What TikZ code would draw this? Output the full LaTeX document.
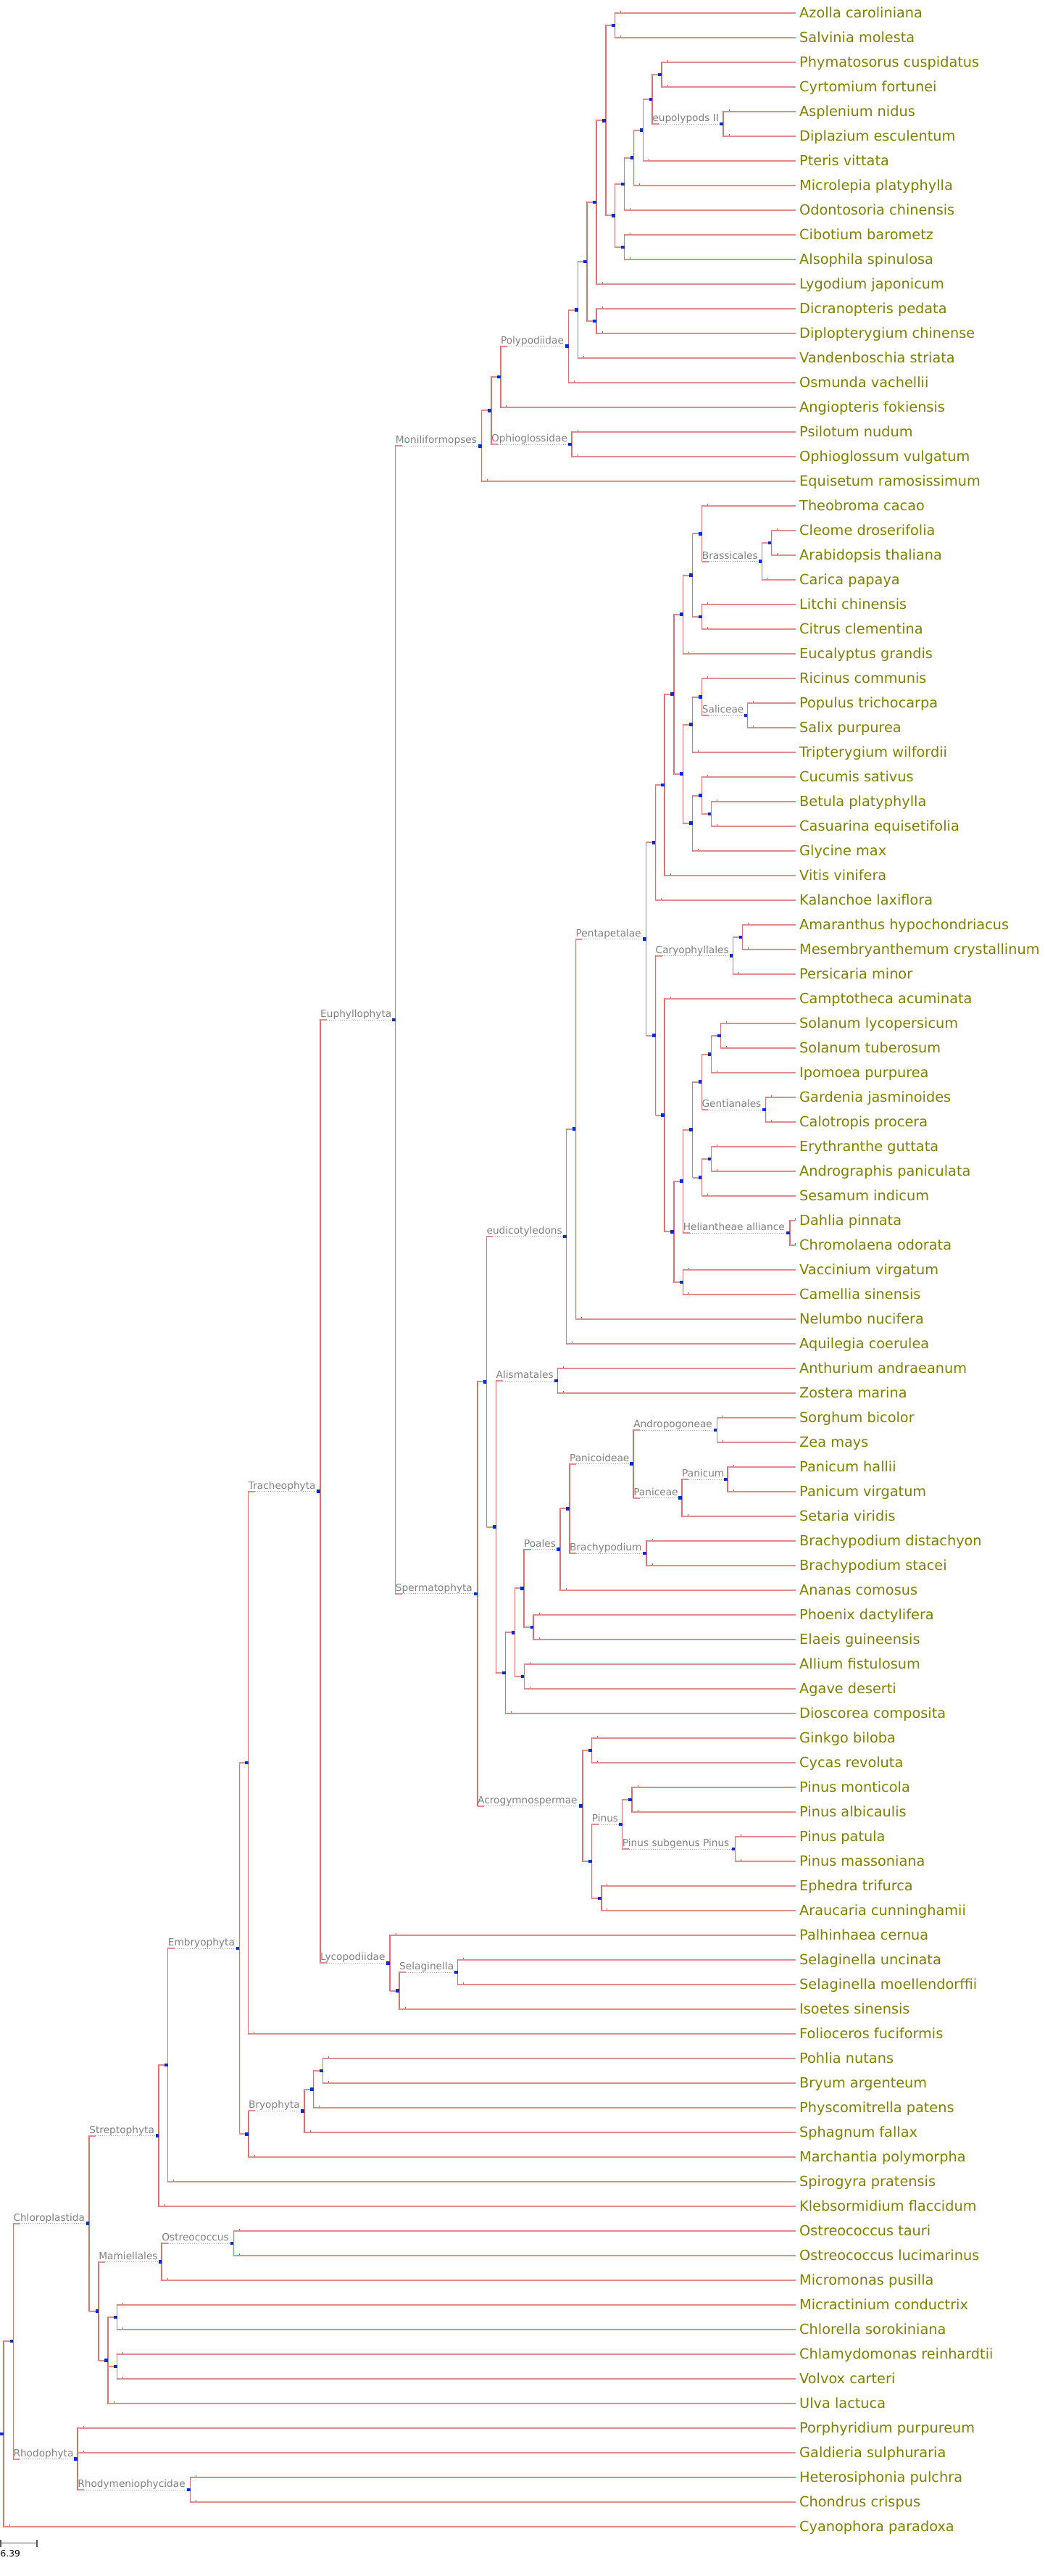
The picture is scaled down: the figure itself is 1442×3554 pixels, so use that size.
\documentclass[tikz,border=0pt]{standalone}
\usepackage{fontspec}
\setmainfont{DejaVu Sans}
\usepackage{tikz}
\usetikzlibrary{calc}
\pgfdeclarelayer{front}
\pgfsetlayers{main,front}
\definecolor{brpink}{RGB}{222,140,140}
\definecolor{brred}{RGB}{215,115,115}
\definecolor{leafol}{RGB}{128,128,0}
\definecolor{cladegr}{RGB}{128,128,128}
\definecolor{dotblue}{RGB}{0,45,205}

\begin{document}
\begin{tikzpicture}[x=1pt, y=-1pt,
    hz/.style={brpink, line width=2pt},
    vt/.style={brred, line width=1.5pt, line cap=rect},
    extra/.style={cladegr!70, line width=1pt, dash pattern=on 1pt off 2pt},
    ndot/.style={dotblue},
    tick/.style={brred!80!black, line width=0.8pt},
    leaf/.style={anchor=west, inner xsep=5pt, inner ysep=0pt, text height=17.9pt, text depth=4.6pt,
      text=leafol, font=\fontsize{19.3}{22}\selectfont},
    clade/.style={anchor=base west, inner sep=0pt, text=cladegr, font=\fontsize{13.7}{16}\selectfont},
    sbar/.style={black!65, line width=1.3pt}]
  \useasboundingbox (0,0) rectangle (1442,3554);

  % leaves, top to bottom
  \foreach \sp [count=\i] in {Azolla caroliniana, Salvinia molesta, Phymatosorus cuspidatus, Cyrtomium fortunei,
      Asplenium nidus, Diplazium esculentum, Pteris vittata, Microlepia platyphylla, Odontosoria chinensis,
      Cibotium barometz, Alsophila spinulosa, Lygodium japonicum, Dicranopteris pedata, Diplopterygium chinense,
      Vandenboschia striata, Osmunda vachellii, Angiopteris fokiensis, Psilotum nudum, Ophioglossum vulgatum,
      Equisetum ramosissimum, Theobroma cacao, Cleome droserifolia, Arabidopsis thaliana, Carica papaya,
      Litchi chinensis, Citrus clementina, Eucalyptus grandis, Ricinus communis, Populus trichocarpa,
      Salix purpurea, Tripterygium wilfordii, Cucumis sativus, Betula platyphylla, Casuarina equisetifolia,
      Glycine max, Vitis vinifera, Kalanchoe laxiflora, Amaranthus hypochondriacus, Mesembryanthemum crystallinum,
      Persicaria minor, Camptotheca acuminata, Solanum lycopersicum, Solanum tuberosum, Ipomoea purpurea,
      Gardenia jasminoides, Calotropis procera, Erythranthe guttata, Andrographis paniculata, Sesamum indicum,
      Dahlia pinnata, Chromolaena odorata, Vaccinium virgatum, Camellia sinensis, Nelumbo nucifera,
      Aquilegia coerulea, Anthurium andraeanum, Zostera marina, Sorghum bicolor, Zea mays, Panicum hallii,
      Panicum virgatum, Setaria viridis, Brachypodium distachyon, Brachypodium stacei, Ananas comosus,
      Phoenix dactylifera, Elaeis guineensis, Allium fistulosum, Agave deserti, Dioscorea composita,
      Ginkgo biloba, Cycas revoluta, Pinus monticola, Pinus albicaulis, Pinus patula, Pinus massoniana,
      Ephedra trifurca, Araucaria cunninghamii, Palhinhaea cernua, Selaginella uncinata,
      Selaginella moellendorffii, Isoetes sinensis, Folioceros fuciformis, Pohlia nutans, Bryum argenteum,
      Physcomitrella patens, Sphagnum fallax, Marchantia polymorpha, Spirogyra pratensis,
      Klebsormidium flaccidum, Ostreococcus tauri, Ostreococcus lucimarinus, Micromonas pusilla,
      Micractinium conductrix, Chlorella sorokiniana, Chlamydomonas reinhardtii, Volvox carteri, Ulva lactuca,
      Porphyridium purpureum, Galdieria sulphuraria, Heterosiphonia pulchra, Chondrus crispus,
      Cyanophora paradoxa}{
    \coordinate (t\i) at (1098,{18+34*(\i-1)});
    \node[leaf] (l\i) at (t\i) {\sp};
  }

  % inner nodes: name/x/first child/last child (children first)
  \foreach \n/\x/\a/\b in {aza/848.7/t1/t2, phy/913.1/t3/t4, eup/998/t5/t6, hh/900.2/phy/eup,
      gg/887.3/hh/t7, ff/874.4/gg/t8, dd/861.5/ff/t9, cib/861.5/t10/t11, cc/848.7/dd/cib,
      bb/835.8/aza/cc, jj/822.9/bb/t12, gle/822.9/t13/t14, kk/810/jj/gle, mm/797.6/kk/t15,
      poly/784.7/mm/t16, nn/690.8/poly/t17, oph/789/t18/t19, oo/677.9/nn/oph, moni/664.7/oo/t20,
      bra1/1064.3/t22/t23, brass/1051.3/bra1/t24, bt/968.7/t21/brass, sap/968.7/t25/t26,
      mal1/955.7/bt/sap, malv/942.7/mal1/t27, sal/1031.3/t29/t30, rs/968.7/t28/sal,
      rst/955.7/rs/t31, bc/981.3/t33/t34, cbc/968.7/t32/bc, cbcg/955.7/cbc/t35, fab/942.7/rst/cbcg,
      ros/930/malv/fab, rosv/917/ros/t36, sros/904.4/rosv/t37, amm/1024.3/t38/t39, car/1011.4/amm/t40,
      sol/994.7/t42/t43, solan/981.3/sol/t44, gent/1056.5/t45/t46, uu/968.4/solan/gent,
      ea/981.3/t47/t48, lam/968.4/ea/t49, vv/955.5/uu/lam, hel/1089.8/t50/t51, ww/942.6/vv/hel,
      eri/942.6/t52/t53, zz/929.8/ww/eri, ast/916.9/t41/zz, xx/904.5/car/ast, pent/891.5/sros/xx,
      aa/794.4/pent/t54, eud/781.5/aa/t55, alis/769.7/t56/t57, andr/989.3/t58/t59, pan/1004.1/t60/t61,
      panic/941/pan/t62, pcd/874.1/andr/panic, brac/892/t63/t64, pp2/785.9/pcd/brac, poa/773.1/pp2/t65,
      are/736.2/t66/t67, m4/722.8/poa/are, asp/723.3/t68/t69, m3/710.3/m4/asp, m2/697.6/m3/t70,
      mono/684.5/alis/m2, angio/671.4/eud/mono, gc/816.6/t71/t72, mp/871.9/t73/t74,
      psub/1014.3/t75/t76, pinus/858.7/mp/psub, ea2/829.8/t77/t78, con/816.6/pinus/ea2,
      acro/804/gc/con, sperm/659/angio/acro, euph/545.7/moni/sperm, selg/631.6/t80/t81,
      b2/551/selg/t82, lyco/537.9/t79/b2, trach/442/euph/lyco, e4/342.7/trach/t83,
      br3/445.5/t84/t85, br2/432.6/br3/t86, bryo/420/br2/t87, e3/342.9/bryo/t88, emb/330.4/e4/e3,
      st2/231.7/emb/t89, strep/219.2/st2/t90, ost/322.3/t91/t92, mam/223.2/ost/t93,
      ss/161.6/t94/t95, tt/161.6/t96/t97, rr/149.1/ss/t98, qq/136.2/mam/rr, chl/123.2/strep/qq,
      rho2/262.5/t101/t102, rho/107.1/t99/rho2, pp/18.3/chl/rho, root/4.9/pp/t103}{
    \coordinate (m) at ($(\a)!0.5!(\b)$);
    \coordinate (\n) at (\x,0 |- m);
    \draw[vt] (\n |- \a) -- (\n |- \b);
    \begin{pgfonlayer}{front}
      \fill[ndot] ($(\n)+(-4.7,-2.35)$) rectangle ++(4.7,4.7);
    \end{pgfonlayer}
  }

  % leaf branches, parent of each leaf in order
  \foreach \p [count=\i] in {aza,aza,phy,phy,eup,eup,gg,ff,dd,cib,cib,jj,gle,gle,mm,poly,nn,oph,oph,moni,
      bt,bra1,bra1,brass,sap,sap,malv,rs,sal,sal,rst,cbc,bc,bc,cbcg,rosv,sros,amm,amm,car,
      ast,sol,sol,solan,gent,gent,ea,ea,lam,hel,hel,eri,eri,aa,eud,alis,alis,andr,andr,pan,
      pan,panic,brac,brac,poa,are,are,asp,asp,m2,gc,gc,mp,mp,psub,psub,ea2,ea2,lyco,selg,
      selg,b2,e4,br3,br3,br2,bryo,e3,st2,strep,ost,ost,mam,ss,ss,tt,tt,rr,rho,rho,
      rho2,rho2,root}{
    \draw[hz] (\p |- t\i) -- (t\i);
    \draw[tick] ($(\p |- t\i)+(8,-1)$) -- ++(0,-2);
  }

  % plain inner branches
  \foreach \p/\c in {bb/aza, hh/phy, gg/hh, ff/gg, dd/ff, cc/dd, cc/cib, bb/cc, jj/bb, kk/jj, kk/gle,
      mm/kk, poly/mm, oo/nn, moni/oo, brass/bra1, mal1/bt, mal1/sap, malv/mal1, ros/malv, rst/rs,
      fab/rst, cbc/bc, cbcg/cbc, fab/cbcg, ros/fab, rosv/ros, sros/rosv, pent/sros, car/amm,
      solan/sol, uu/solan, lam/ea, vv/uu, vv/lam, ww/vv, zz/ww, zz/eri, ast/zz, xx/ast, pent/xx,
      eud/aa, poa/pp2, m4/are, m3/m4, m3/asp, m2/m3, mono/m2, angio/mono, sperm/angio, acro/gc,
      acro/con, pinus/mp, con/ea2, lyco/b2, bryo/br2, br2/br3, emb/e4, emb/e3, strep/st2, qq/rr,
      rr/ss, rr/tt, chl/qq, root/pp}
    \draw[hz] (\p |- \c) -- (\c);

  % named clades: short branch, dotted extension, label on top
  \foreach \p/\c/\txt in {hh/eup/eupolypods II, nn/poly/Polypodiidae, oo/oph/Ophioglossidae,
      euph/moni/Moniliformopses, bt/brass/Brassicales, rs/sal/Saliceae, xx/car/Caryophyllales,
      uu/gent/Gentianales, ww/hel/Heliantheae alliance, aa/pent/Pentapetalae, angio/eud/eudicotyledons,
      mono/alis/Alismatales, pcd/andr/Andropogoneae, panic/pan/Panicum, pcd/panic/Paniceae,
      pp2/pcd/Panicoideae, pp2/brac/Brachypodium, m4/poa/Poales, pinus/psub/Pinus subgenus Pinus,
      con/pinus/Pinus, sperm/acro/Acrogymnospermae, euph/sperm/Spermatophyta, trach/euph/Euphyllophyta,
      b2/selg/Selaginella, trach/lyco/Lycopodiidae, e4/trach/Tracheophyta, e3/bryo/Bryophyta,
      st2/emb/Embryophyta, chl/strep/Streptophyta, mam/ost/Ostreococcus, qq/mam/Mamiellales,
      pp/chl/Chloroplastida, rho/rho2/Rhodymeniophycidae, pp/rho/Rhodophyta}{
    \draw[hz] (\p |- \c) -- ++(9,0);
    \draw[extra] ($(\p |- \c)+(9,0)$) -- (\c);
    \node[clade] (n\c) at ($(\p |- \c)+(0,-3.5)$) {\txt};
  }

  % scale
  \coordinate (s0) at (1,3508.5);
  \coordinate (s1) at (51,3508.5);
  \draw[sbar] (s0) -- (s1);
  \draw[sbar] ($(s0)+(0,-5)$) -- ($(s0)+(0,5)$);
  \draw[sbar] ($(s1)+(0,-5)$) -- ($(s1)+(0,5)$);
  \node[anchor=base west, inner sep=0pt, font=\fontsize{12.2}{14}\selectfont] (sl) at (0.5,3527) {6.39};
\end{tikzpicture}
\end{document}
